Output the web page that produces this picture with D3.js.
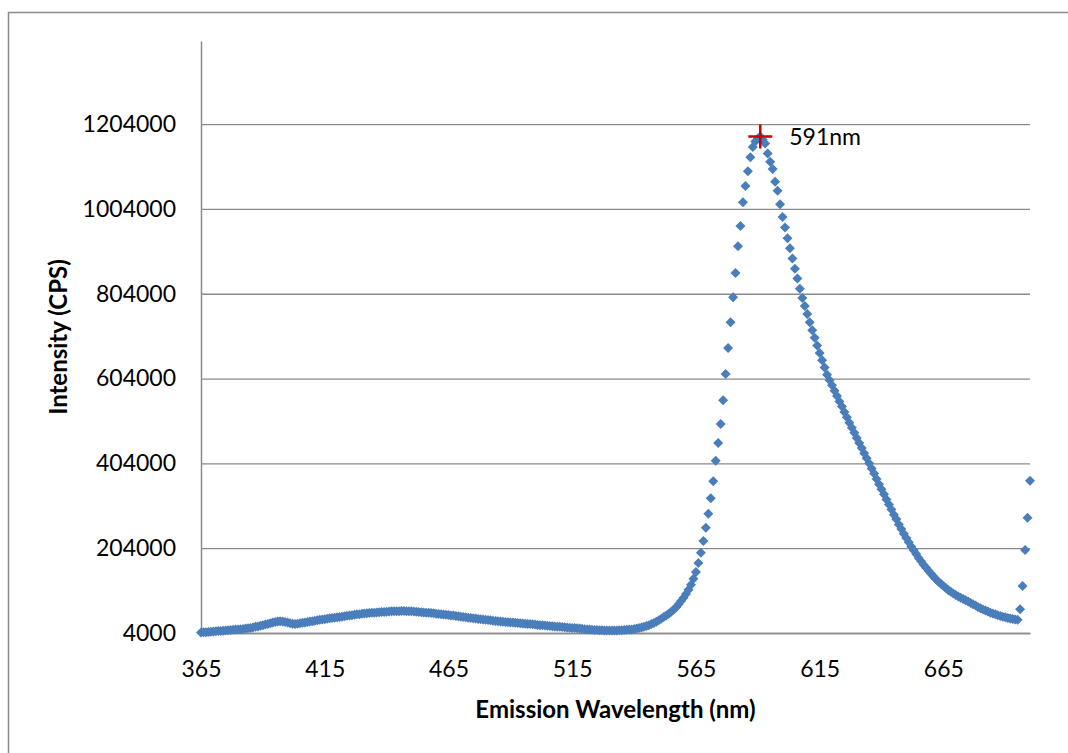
<!DOCTYPE html>
<html>
<head>
<meta charset="utf-8">
<script src="https://cdn.jsdelivr.net/npm/d3@7"></script>
<style>
  body { margin: 0; background: #fff; }
  svg { display: block; }
  text { font-family: Lato, "Open Sans", sans-serif; fill: #000; }
</style>
</head>
<body>
<svg id="chart" width="1068" height="753"></svg>
<script>
// emission wavelength (nm), one reading per nm
var wavelengths = [
  365, 366, 367, 368, 369, 370, 371, 372, 373, 374,
  375, 376, 377, 378, 379, 380, 381, 382, 383, 384,
  385, 386, 387, 388, 389, 390, 391, 392, 393, 394,
  395, 396, 397, 398, 399, 400, 401, 402, 403, 404,
  405, 406, 407, 408, 409, 410, 411, 412, 413, 414,
  415, 416, 417, 418, 419, 420, 421, 422, 423, 424,
  425, 426, 427, 428, 429, 430, 431, 432, 433, 434,
  435, 436, 437, 438, 439, 440, 441, 442, 443, 444,
  445, 446, 447, 448, 449, 450, 451, 452, 453, 454,
  455, 456, 457, 458, 459, 460, 461, 462, 463, 464,
  465, 466, 467, 468, 469, 470, 471, 472, 473, 474,
  475, 476, 477, 478, 479, 480, 481, 482, 483, 484,
  485, 486, 487, 488, 489, 490, 491, 492, 493, 494,
  495, 496, 497, 498, 499, 500, 501, 502, 503, 504,
  505, 506, 507, 508, 509, 510, 511, 512, 513, 514,
  515, 516, 517, 518, 519, 520, 521, 522, 523, 524,
  525, 526, 527, 528, 529, 530, 531, 532, 533, 534,
  535, 536, 537, 538, 539, 540, 541, 542, 543, 544,
  545, 546, 547, 548, 549, 550, 551, 552, 553, 554,
  555, 556, 557, 558, 559, 560, 561, 562, 563, 564,
  565, 566, 567, 568, 569, 570, 571, 572, 573, 574,
  575, 576, 577, 578, 579, 580, 581, 582, 583, 584,
  585, 586, 587, 588, 589, 590, 591, 592, 593, 594,
  595, 596, 597, 598, 599, 600, 601, 602, 603, 604,
  605, 606, 607, 608, 609, 610, 611, 612, 613, 614,
  615, 616, 617, 618, 619, 620, 621, 622, 623, 624,
  625, 626, 627, 628, 629, 630, 631, 632, 633, 634,
  635, 636, 637, 638, 639, 640, 641, 642, 643, 644,
  645, 646, 647, 648, 649, 650, 651, 652, 653, 654,
  655, 656, 657, 658, 659, 660, 661, 662, 663, 664,
  665, 666, 667, 668, 669, 670, 671, 672, 673, 674,
  675, 676, 677, 678, 679, 680, 681, 682, 683, 684,
  685, 686, 687, 688, 689, 690, 691, 692, 693, 694,
  695, 696, 697, 698, 699, 700
];

// intensity (CPS)
var intensity = [
  5000, 5500, 6000, 6500, 7000, 7500, 8000, 8500, 9000, 9500,
  10000, 10500, 11000, 11500, 12000, 12500, 13000, 13500, 14500, 15000,
  16000, 17000, 18500, 19500, 21000, 22500, 24000, 25500, 27000, 28500,
  30000, 31000, 31500, 31000, 30000, 28500, 27000, 26000, 25500, 26000,
  27000, 28000, 29000, 30000, 31000, 32000, 33000, 34000, 35000, 36000,
  36500, 37500, 38500, 39500, 40000, 41000, 42000, 42500, 43500, 44500,
  45000, 46000, 47000, 48000, 48500, 49500, 50000, 50500, 51000, 51500,
  52000, 52500, 53000, 53500, 53500, 54000, 54500, 55000, 55000, 55500,
  55500, 56000, 56000, 55500, 55500, 55000, 54500, 54000, 53500, 53000,
  52500, 52000, 51500, 51000, 50500, 49500, 49000, 48500, 47500, 47000,
  46500, 45500, 45000, 44000, 43500, 42500, 42000, 41000, 40000, 39500,
  38500, 38000, 37000, 36500, 36000, 35000, 34500, 34000, 33000, 32500,
  32000, 31000, 30500, 30000, 29500, 29000, 28500, 28000, 27500, 27000,
  26500, 26000, 25500, 25000, 24500, 24000, 23000, 22500, 22000, 21500,
  21000, 20500, 20000, 19500, 19000, 18500, 18000, 17500, 17000, 16500,
  16000, 15500, 15000, 14500, 14000, 13000, 12500, 12000, 11500, 11000,
  11000, 10500, 10500, 10000, 10000, 10000, 10000, 10000, 10000, 10500,
  10500, 11000, 11500, 12000, 12500, 13500, 14500, 15500, 17000, 18500,
  20500, 22500, 25000, 27500, 30500, 34000, 37500, 41500, 45500, 49500,
  54000, 59000, 65000, 72000, 79500, 87000, 96000, 106000, 118000, 132000,
  148000, 169000, 193000, 221000, 252000, 285000, 322000, 362000, 410000, 452000,
  497000, 553000, 615000, 676000, 737000, 796000, 853000, 916000, 964000, 1020000,
  1058000, 1093000, 1126000, 1150000, 1163000, 1170000, 1175000, 1167000, 1158000, 1135000,
  1115000, 1098000, 1068000, 1047000, 1015000, 985000, 960000, 935000, 911000, 887000,
  863000, 840000, 816000, 794000, 775000, 756000, 737000, 718000, 700000, 682000,
  664000, 647000, 630000, 613000, 600000, 588000, 575000, 563000, 550000, 538000,
  525000, 513000, 500000, 488000, 476000, 464000, 452000, 440000, 428000, 416000,
  404000, 392000, 380000, 367000, 355000, 343000, 331000, 319000, 307000, 295000,
  283000, 272000, 260000, 249000, 238000, 228000, 218000, 208000, 199000, 190000,
  181000, 173000, 165000, 158000, 151000, 144000, 137000, 131000, 125000, 120000,
  115000, 110000, 105000, 101000, 97000, 93500, 90000, 87000, 84000, 81000,
  78000, 75000, 72000, 69000, 65500, 62500, 59500, 57000, 54500, 52000,
  50000, 48000, 46000, 44000, 42500, 41000, 39500, 38000, 37000, 36000,
  35000, 60000, 115000, 200000, 276000, 363000
];

var xTicks = [365, 415, 465, 515, 565, 615, 665];
var yTicks = [4000, 204000, 404000, 604000, 804000, 1004000, 1204000];
var xDomain = [365, 700];
var yDomain = [4000, 1400000];

var peakWavelength = 591;
var peakLabel = "591nm";
var xTitle = "Emission Wavelength (nm)";
var yTitle = "Intensity (CPS)";

var points = wavelengths.map(function (w, i) {
  return {wl: w, v: intensity[i]};
});

var svg = d3.select("#chart"),
    margin = {top: 41, right: 38, bottom: 120, left: 201},
    width = +svg.attr("width") - margin.left - margin.right,
    height = +svg.attr("height") - margin.top - margin.bottom;

var gridColor = "#8a8a8a";

// outer chart frame (runs off the right and bottom of the picture)
svg.append("rect")
  .attr("x", 8.5).attr("y", 12.5)
  .attr("width", 1100).attr("height", 800)
  .attr("fill", "none")
  .attr("stroke", gridColor)
  .attr("stroke-width", 1.5);

var x = d3.scaleLinear().domain(xDomain).range([0, width]);
var y = d3.scaleLinear().domain(yDomain).range([height, 0]);

var g = svg.append("g")
  .attr("transform", "translate(" + margin.left + "," + margin.top + ")");

// horizontal gridlines
g.append("g")
  .attr("class", "grid")
  .call(d3.axisLeft(y).tickValues(yTicks).tickSize(-width).tickFormat(""))
  .call(function (s) {
    s.select(".domain").remove();
    s.selectAll("line").attr("stroke", gridColor).attr("stroke-width", 1.3);
  });

// y axis
g.append("g")
  .call(d3.axisLeft(y).tickValues(yTicks).tickSize(0).tickPadding(25).tickFormat(d3.format("d")))
  .call(function (s) {
    s.select(".domain").attr("stroke", gridColor).attr("stroke-width", 1.5);
    s.selectAll("text").attr("font-size", 23).attr("font-family", "Lato, sans-serif").attr("fill", "#000");
  });

// x axis
g.append("g")
  .attr("transform", "translate(0," + height + ")")
  .call(d3.axisBottom(x).tickValues(xTicks).tickSize(0).tickPadding(28).tickFormat(d3.format("d")))
  .call(function (s) {
    s.select(".domain").attr("stroke", gridColor).attr("stroke-width", 1.5);
    s.selectAll("text").attr("font-size", 23).attr("font-family", "Lato, sans-serif").attr("fill", "#000");
  });

// axis titles
svg.append("text")
  .attr("x", margin.left + width / 2)
  .attr("y", 718)
  .attr("text-anchor", "middle")
  .attr("font-size", 24)
  .attr("font-weight", "bold")
  .text(xTitle);

svg.append("text")
  .attr("transform", "translate(67," + (margin.top + height / 2) + ") rotate(-90)")
  .attr("text-anchor", "middle")
  .attr("font-size", 24)
  .attr("font-weight", "bold")
  .text(yTitle);

// diamond markers
var diamond = d3.symbol().type(d3.symbolSquare).size(50);

g.selectAll(".pt")
  .data(points)
  .enter()
  .append("path")
  .attr("class", "pt")
  .attr("d", diamond)
  .attr("fill", "#4a7ebb")
  .attr("transform", function (d) {
    return "translate(" + x(d.wl) + "," + y(d.v) + ") rotate(45)";
  });

// peak marker
var peak = points.find(function (d) { return d.wl === peakWavelength; });
var px = x(peak.wl), py = y(peak.v);

g.append("path")
  .attr("d", "M" + (px - 12) + "," + py + "H" + (px + 12) + "M" + px + "," + (py - 12) + "V" + (py + 12))
  .attr("stroke", "#cc0000")
  .attr("stroke-width", 2.5)
  .attr("fill", "none");

g.append("text")
  .attr("x", px + 29)
  .attr("y", py + 9)
  .attr("font-size", 23)
  .text(peakLabel);
</script>
</body>
</html>
